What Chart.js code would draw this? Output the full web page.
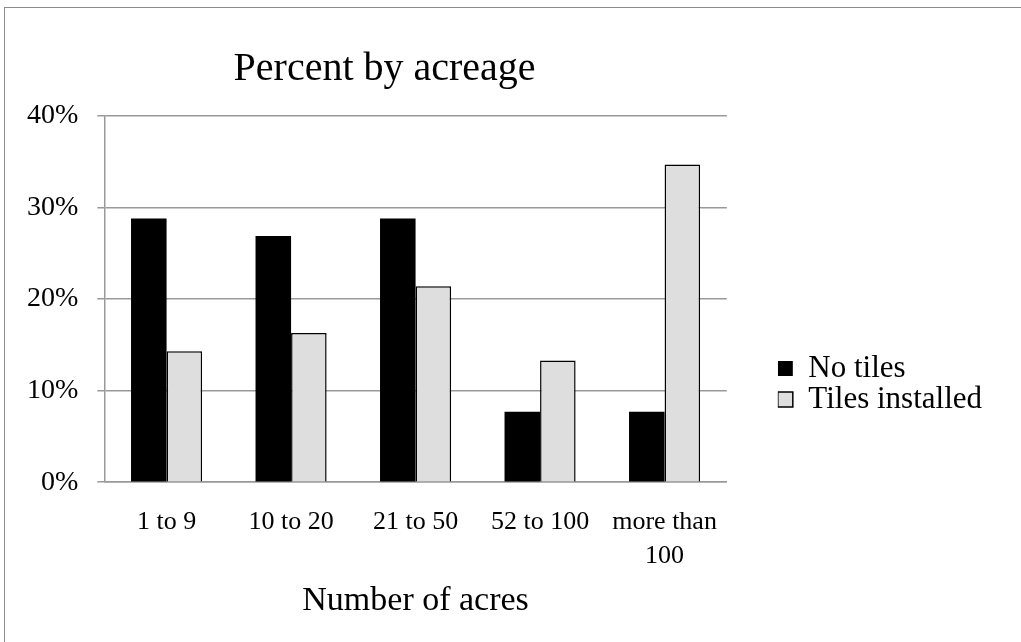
<!DOCTYPE html>
<html>
<head>
<meta charset="utf-8">
<script src="https://cdn.jsdelivr.net/npm/chart.js@4.4.1/dist/chart.umd.min.js"></script>
<style>
html, body { margin: 0; padding: 0; background: #fff; }
#wrap { position: relative; width: 1021px; height: 642px; overflow: hidden; }
#frame { position: absolute; left: 4px; top: 7px; width: 1040px; height: 660px; border: 1px solid #8c8c8c; box-sizing: border-box; pointer-events: none; }
</style>
</head>
<body>
<div id="wrap">
    <canvas id="chartAcres" width="1021" height="642"></canvas>
    <div id="frame"></div>
</div>
<script>
/* Percent by acreage */

const categories = ["1 to 9", "10 to 20", "21 to 50", "52 to 100", ["more than", "100"]];
const noTiles = [28.8, 26.9, 28.8, 7.7, 7.7];
const tilesInstalled = [14.3, 16.3, 21.4, 13.3, 34.7];
const yTicks = [0, 10, 20, 30, 40];

const FONT = "'Liberation Serif', 'Times New Roman', serif";

// nudge legend and title boxes, Chart.js has no offset option for them
const boxShift = {
    id: "boxShift",
    afterLayout(chart) {
        const l = chart.legend;
        if (l) {
            l.left += 51; l.right += 51;
            l.top += 51; l.bottom += 51;
        }
        const t = chart.titleBlock;
        if (t) {
            t.left -= 31; t.right -= 31;
        }
    }
};

let acresChart = null;

function buildChart() {

    const ctx = document.getElementById("chartAcres").getContext("2d");

    acresChart = new Chart(ctx, {

        type: "bar",

        data: {
            labels: categories,
            datasets: [
                {
                    label: "No tiles",
                    data: noTiles,
                    backgroundColor: "#000000",
                    borderColor: "#000000",
                    borderWidth: 0
                },
                {
                    label: "Tiles installed",
                    data: tilesInstalled,
                    backgroundColor: "#dedede",
                    borderColor: "#000000",
                    borderWidth: 1.5
                }
            ]
        },

        options: {
            responsive: false,
            animation: false,
            categoryPercentage: 0.571,
            barPercentage: 1.0,
            layout: {
                padding: { left: 8, right: 80, top: 45, bottom: 21 }
            },
            plugins: {
                title: {
                    display: true,
                    text: "Percent by acreage",
                    color: "#000",
                    fullSize: false,
                    font: { family: FONT, size: 40, weight: "normal" },
                    padding: { top: 0, bottom: 23 }
                },
                legend: {
                    position: "right",
                    labels: {
                        color: "#000",
                        boxWidth: 15,
                        boxHeight: 15,
                        padding: 0,
                        font: { family: FONT, size: 31 }
                    }
                },
                tooltip: { enabled: false }
            },
            scales: {
                x: {
                    grid: { display: false },
                    border: { color: "#999", width: 1.5 },
                    ticks: {
                        color: "#000",
                        padding: 16,
                        maxRotation: 0,
                        font: { family: FONT, size: 26, lineHeight: 1.27 }
                    },
                    title: {
                        display: true,
                        text: "Number of acres",
                        color: "#000",
                        padding: { top: -8, bottom: 0 },
                        font: { family: FONT, size: 34 }
                    }
                },
                y: {
                    min: 0,
                    max: 40,
                    afterBuildTicks(axis) {
                        axis.ticks = yTicks.map(v => ({ value: v }));
                    },
                    grid: { color: "#999", lineWidth: 1.5, tickLength: 7 },
                    border: { color: "#999", width: 1.5 },
                    ticks: {
                        color: "#000",
                        padding: 19,
                        font: { family: FONT, size: 28 },
                        callback: v => v + "%"
                    }
                }
            }
        },

        plugins: [boxShift]

    });

}

buildChart();
</script>
</body>
</html>
